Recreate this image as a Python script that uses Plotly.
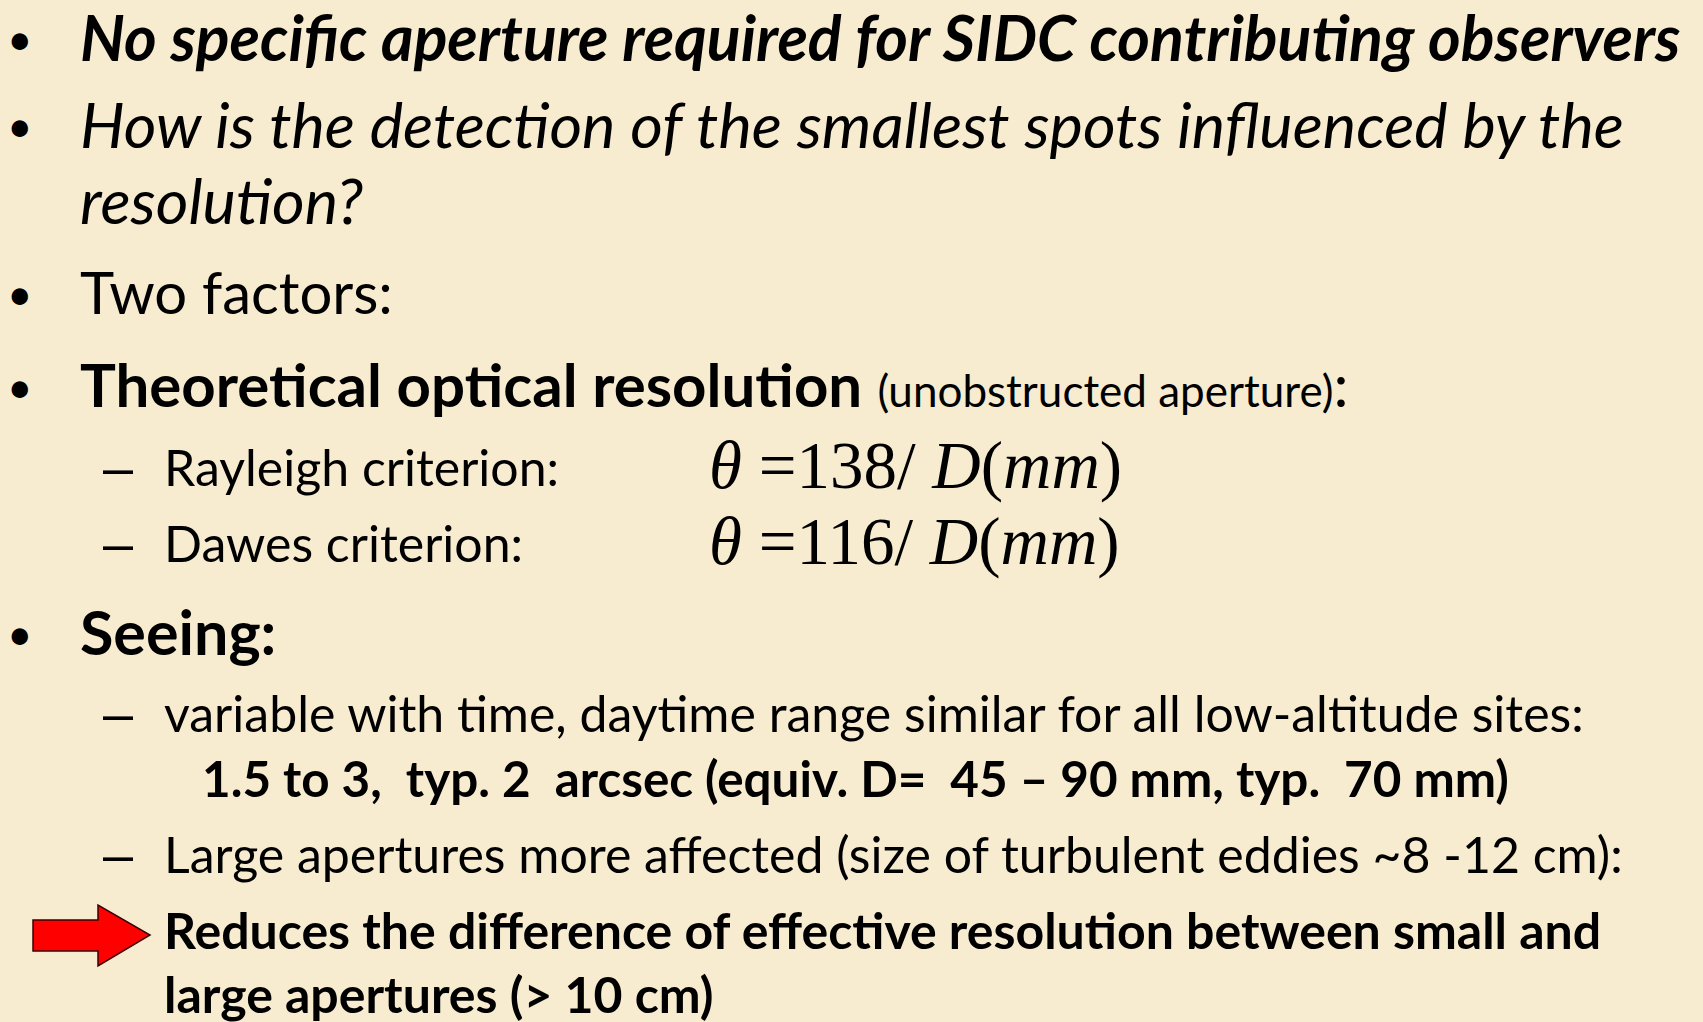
import plotly.graph_objects as go

W, H = 1703, 1022
BG = "#F7ECD0"
SANS = "Lato"
SERIF = "Liberation Serif"

# Slide text content
bullet_lines = [
    "<b><i>No specific aperture required for SIDC contributing observers</i></b>",
    "<i>How is the detection of the smallest spots influenced by the</i>",
    "<i>resolution?</i>",
    "Two factors:",
    "<b>Theoretical optical resolution</b> <span style='font-size:44px'>(unobstructed aperture)</span>:",
    "<b>Seeing:</b>",
]
bullet_y = [36, 123, 199, 291, 384, 631]
bullet_size = [62.6, 63, 63, 58, 60, 61]
bullet_mark = [True, True, False, True, True, True]

sub_lines = [
    "Rayleigh criterion:",
    "Dawes criterion:",
    "variable with time, daytime range similar for all low-altitude sites:",
    "Large apertures more affected (size of turbulent eddies ~8 -12 cm):",
]
sub_y = [467, 543, 713, 854]

formulas = [
    "<i>θ</i> =138/ <i>D</i>(<i>mm</i>)",
    "<i>θ</i> =116/ <i>D</i>(<i>mm</i>)",
]
formula_y = [465, 541]

bold_extra = ["<b>1.5 to 3,  typ. 2  arcsec (equiv. D=  45 – 90 mm, typ.  70 mm)</b>"]
bold_extra_y = [778]

conclusion = [
    "<b>Reduces the difference of effective resolution between small and</b>",
    "<b>large apertures (&gt; 10 cm)</b>",
]
conclusion_y = [930, 994]

fig = go.Figure()
fig.add_trace(go.Scatter(x=[0, W], y=[0, H], mode="markers", marker=dict(opacity=0),
                         hoverinfo="skip", showlegend=False))

ann = []
SUB = 50

def add(x, y, text, family, size):
    ann.append(dict(x=x, y=y, text=text, font=dict(family=family, size=size, color="black"),
                    xanchor="left", yanchor="middle", showarrow=False))

for t, y, s, m in zip(bullet_lines, bullet_y, bullet_size, bullet_mark):
    if m:
        add(5, y + 2, "•", SANS, 44)
    add(78, y, t, SANS, s)

for t, y in zip(sub_lines, sub_y):
    add(101, y, "–", "Liberation Sans", 54)
    add(162, y, t, SANS, SUB)

for t, y in zip(formulas, formula_y):
    add(707, y, t, SERIF, 67)

for t, y in zip(bold_extra, bold_extra_y):
    add(200, y, t, SANS, 49.4)

for t, y in zip(conclusion, conclusion_y):
    add(162, y, t, SANS, SUB)

# red block arrow
arrow_path = "M 33 920 L 98 920 L 98 905 L 150 935 L 98 966 L 98 951 L 33 951 Z"

fig.update_layout(
    width=W, height=H,
    margin=dict(l=0, r=0, t=0, b=0),
    paper_bgcolor=BG, plot_bgcolor=BG,
    xaxis=dict(range=[0, W], visible=False, fixedrange=True),
    yaxis=dict(range=[H, 0], visible=False, fixedrange=True),
    annotations=ann,
    shapes=[dict(type="path", path=arrow_path, xref="x", yref="y",
                 fillcolor="#FF0000", line=dict(color="#3a0000", width=1.5))],
    showlegend=False,
)
fig.write_html(
    "out.html",
    config={"displayModeBar": False},
    post_script="document.body.style.margin='0';document.body.style.overflow='hidden';"
                "document.body.style.background='" + BG + "';",
)
